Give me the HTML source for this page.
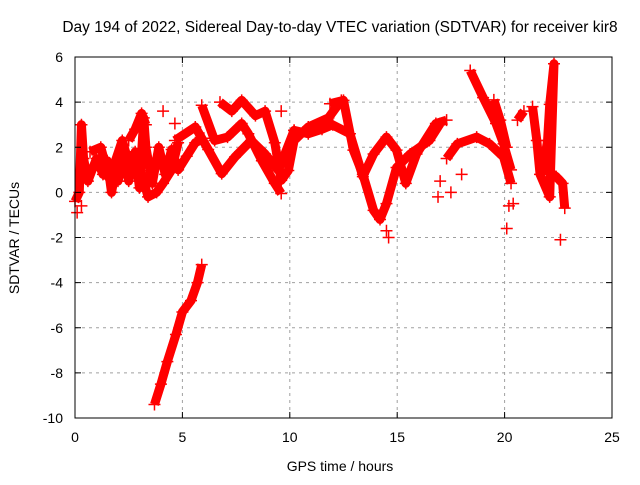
<!DOCTYPE html>
<html><head><meta charset="utf-8"><style>
body{margin:0;background:#fff}
svg text{font-family:"Liberation Sans",sans-serif;font-size:14px;fill:#000}
</style></head><body>
<svg id="chart" width="640" height="480" viewBox="0 0 640 480" xmlns="http://www.w3.org/2000/svg">
<rect width="640" height="480" fill="#fff"/>
<text x="340" y="32" text-anchor="middle" style="font-size:15.5px">Day 194 of 2022, Sidereal Day-to-day VTEC variation (SDTVAR) for receiver kir8</text>
<text x="340" y="471" text-anchor="middle">GPS time / hours</text>
<text transform="translate(19,238) rotate(-90)" text-anchor="middle">SDTVAR / TECUs</text>
<g id="grid"></g><g id="marks"></g><g id="axes"></g>
</svg>
<script>
const xTicks=[0,5,10,15,20,25];
const yTicks=[-10,-8,-6,-4,-2,0,2,4,6];
const tA=[3.7,4.0,4.3,4.7,5.0,5.4,5.7,5.9];
const vA=[-9.4,-8.5,-7.5,-6.3,-5.3,-4.8,-4.0,-3.2];
const tB=[6.75,7.3,7.76,8.4,8.85,9.3,9.6,9.93,10.2,10.86,11.8,12.4];
const vB=[4.0,3.6,4.08,3.4,3.6,2.2,0.53,0.97,2.3,2.9,3.3,4.08];
const tC=[5.9,6.5,7.1,7.76,8.07,8.7,9.3,9.6];
const vC=[3.86,2.3,2.45,3.05,2.6,1.4,0.4,-0.05];
const tD=[4.65,5.6,6.2,6.83,7.45,8.2,8.85,9.47,10.2,10.86,11.5,12.0];
const vD=[2.3,2.9,1.9,0.83,1.57,2.3,1.7,0.97,2.75,2.6,2.8,3.0];
const tE=[4.1,4.65,9.6,10.2];
const vE=[3.6,3.05,3.6,2.75];
const tF=[11.87,12.5,12.96,13.4,13.9,14.2,14.5,14.97,15.6,16.5,17.0];
const vF=[3.93,4.08,1.87,0.8,-0.8,-1.2,-0.5,1.1,1.7,2.3,3.05];
const tG=[11.87,12.8,13.4,13.9,14.5,14.97,15.4,15.9,16.8,17.3];
const vG=[3.05,2.6,0.7,1.7,2.45,1.87,0.4,1.7,3.05,3.2];
const tH=[18.4,19.0,19.6,19.95,20.3];
const vH=[5.4,4.2,3.05,2.15,1.0];
const tI=[19.5,19.8,20.1];
const vI=[4.1,3.2,2.0];
const tJ=[17.3,17.8,18.7,19.3,19.95,20.3];
const vJ=[1.5,2.15,2.45,2.15,1.57,0.4];
const tK=[20.6,20.9];
const vK=[3.2,3.6];
const tL=[21.3,21.5,21.65,22.1,22.3,22.1,22.0,21.8,22.4,22.7,22.8];
const vL=[3.8,2.3,0.8,-0.2,5.7,3.9,2.3,1.1,0.7,0.4,-0.7];
const tM=[0,0.2,0.3,0.4,0.6,0.8,1.0,1.3,1.5,1.7,1.9,2.0,2.3,2.5,2.8,3.0,3.2,3.3,3.6,3.9,4.2,4.5,4.8,5.2,5.6,6.0];
const vM=[-0.4,0,3.0,1.5,0.5,1.0,1.5,0.8,1.4,0.0,1.0,0.5,1.5,0.5,1.8,0.2,3.3,2.0,0.4,2.0,0.8,1.9,1.0,1.6,2.2,2.4];
const tN=[0.7,1.2,1.6,2.2,2.6,3.0,3.4,3.8,4.1,4.5,4.8];
const vN=[1.8,2.0,0.6,2.3,1.0,1.2,-0.2,0.0,0.4,1.0,2.2];
const tO=[2.5,2.8,3.1,3.3];
const vO=[2.3,2.8,3.5,3.0];
const tS=[20.1,22.6,20.2,20.4,14.6,14.5,17.0,17.5,18.0,16.9,0.1,0.3];
const vS=[-1.6,-2.1,-0.6,-0.5,-2.0,-1.7,0.5,0.0,0.8,-0.2,-0.9,-0.6];
const X=h=>75+h*(537/25);
const Y=v=>418-(v+10)*(361/16);
const NS='http://www.w3.org/2000/svg';
function mk(tag,parent){const e=document.createElementNS(NS,tag);parent.appendChild(e);return e;}
const grid=document.getElementById('grid'),marks=document.getElementById('marks'),axes=document.getElementById('axes');
xTicks.forEach(t=>{
  if(t>0&&t<25){const l=mk('line',grid);l.setAttribute('x1',X(t));l.setAttribute('x2',X(t));l.setAttribute('y1',Y(6));l.setAttribute('y2',Y(-10));l.setAttribute('stroke','#a0a0a0');l.setAttribute('stroke-dasharray','3,4');
  
  }
  const tk=mk('path',axes);tk.setAttribute('d',`M${X(t)},${Y(-10)}v-6M${X(t)},${Y(6)}v6`);tk.setAttribute('stroke','#000');
  
  
  const tx=mk('text',axes);tx.setAttribute('x',X(t));tx.setAttribute('y',442);tx.setAttribute('text-anchor','middle');tx.textContent=t;
  
  
});
yTicks.forEach(t=>{
  if(t>-10&&t<6){const l=mk('line',grid);l.setAttribute('x1',X(0));l.setAttribute('x2',X(25));l.setAttribute('y1',Y(t));l.setAttribute('y2',Y(t));l.setAttribute('stroke','#a0a0a0');l.setAttribute('stroke-dasharray','3,4');
  
  }
  const tk=mk('path',axes);tk.setAttribute('d',`M${X(0)},${Y(t)}h6M${X(25)},${Y(t)}h-6`);tk.setAttribute('stroke','#000');
  
  
  const tx=mk('text',axes);tx.setAttribute('x',63);tx.setAttribute('y',Y(t)+5);tx.setAttribute('text-anchor','end');tx.textContent=t;
  
  
});
const fr=mk('rect',axes);fr.setAttribute('x',X(0));fr.setAttribute('y',Y(6));fr.setAttribute('width',X(25)-X(0));fr.setAttribute('height',Y(-10)-Y(6));fr.setAttribute('fill','none');fr.setAttribute('stroke','#000');


const series=[[tA,vA],[tB,vB],[tC,vC],[tD,vD],[tF,vF],[tG,vG],[tH,vH],[tI,vI],[tJ,vJ],[tK,vK],[tL,vL],[tM,vM],[tN,vN],[tO,vO]];
series.forEach(([ts,vs])=>{
  const p=mk('polyline',marks);p.setAttribute('points',ts.map((t,i)=>X(t)+','+Y(vs[i])).join(' '));
  p.setAttribute('fill','none');p.setAttribute('stroke','#f00');p.setAttribute('stroke-width','9');p.setAttribute('stroke-linejoin','round');
  
  
  ts.forEach((t,i)=>plus(t,vs[i]));
});
tE.forEach((t,i)=>plus(t,vE[i]));
tS.forEach((t,i)=>plus(t,vS[i]));
function plus(t,v){const m=mk('path',marks);m.setAttribute('d',`M${X(t)-6},${Y(v)}h12M${X(t)},${Y(v)-6}v12`);m.setAttribute('stroke','#f00');m.setAttribute('stroke-width','1.5');
  
  }
</script>
</body></html>
